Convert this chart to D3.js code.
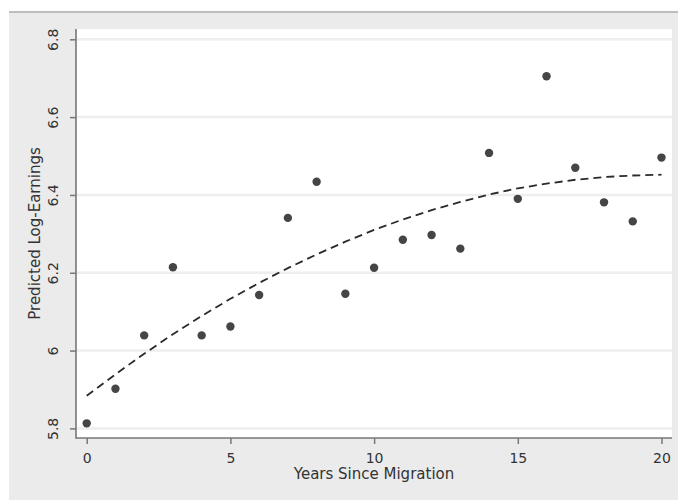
<!DOCTYPE html>
<html>
<head>
<meta charset="utf-8">
<script src="https://cdn.jsdelivr.net/npm/d3@7"></script>
<style>
  html, body { margin: 0; padding: 0; background: #ffffff; }
  svg { display: block; }
  text { font-family: "DejaVu Sans", sans-serif; fill: #333; }
</style>
</head>
<body>
<script>
// ---- data ----
const years = [0,1,2,3,4,5,6,7,8,9,10,11,12,13,14,15,16,17,18,19,20];
const observed = [5.813,5.902,6.039,6.214,6.039,6.062,6.143,6.341,6.434,6.146,6.213,6.285,6.297,6.262,6.508,6.390,6.705,6.470,6.381,6.332,6.496];
const fitted = [5.884,5.939,5.992,6.042,6.089,6.133,6.174,6.212,6.247,6.280,6.310,6.337,6.361,6.382,6.401,6.417,6.429,6.439,6.446,6.450,6.452];
const xTicks = [0,5,10,15,20];
const yTicks = [5.8,6.0,6.2,6.4,6.6,6.8];
const xTitle = "Years Since Migration";
const yTitle = "Predicted Log-Earnings";

const W = 678, H = 500;
const svg = d3.select("body").append("svg").attr("width", W).attr("height", H);

// outer panel
svg.append("rect").attr("x", 9).attr("y", 11).attr("width", W - 9).attr("height", H - 11).attr("fill", "#ebebeb");
svg.append("rect").attr("x", 9).attr("y", 11).attr("width", W - 9).attr("height", 2).attr("fill", "#bdbdbd");

// plot region
const plot = {left: 76, right: 672, top: 29, bottom: 438};
svg.append("rect").attr("x", plot.left).attr("y", plot.top)
  .attr("width", plot.right - plot.left).attr("height", plot.bottom - plot.top).attr("fill", "#ffffff");

const x = d3.scaleLinear().domain([0, 20]).range([86.7, 661.5]);
const y = d3.scaleLinear().domain([5.8, 6.8]).range([428.4, 39.3]);

// gridlines
svg.append("g").selectAll("line").data(yTicks).join("line")
  .attr("x1", plot.left).attr("x2", plot.right)
  .attr("y1", d => y(d)).attr("y2", d => y(d))
  .attr("stroke", "#eeeeee").attr("stroke-width", 2.5);

// fitted dashed line
const line = d3.line().x((d, i) => x(years[i])).y(d => y(d));
svg.append("path").datum(fitted).attr("d", line)
  .attr("fill", "none").attr("stroke", "#2a2a2a").attr("stroke-width", 1.8)
  .attr("stroke-dasharray", "8,5");

// points
svg.append("g").selectAll("circle").data(observed).join("circle")
  .attr("cx", (d, i) => x(years[i])).attr("cy", d => y(d)).attr("r", 4.2)
  .attr("fill", "#454545");

// axes
const fmt = d => (Math.abs(d - 6) < 1e-9 ? "6" : d3.format(".1f")(d));
const yAxis = svg.append("g").attr("transform", `translate(${plot.left},0)`)
  .call(d3.axisLeft(y).tickValues(yTicks).tickSize(6).tickPadding(3).tickFormat(fmt));
yAxis.select(".domain").remove();
yAxis.selectAll(".tick line").attr("stroke", "#777").attr("stroke-width", 1.5);
yAxis.selectAll(".tick text")
  .attr("font-size", 14).attr("fill", "#333")
  .attr("text-anchor", "middle")
  .attr("transform", "translate(-23,0) rotate(-90)")
  .attr("x", 0).attr("dy", "0.35em");

const xAxis = svg.append("g").attr("transform", `translate(0,${plot.bottom})`)
  .call(d3.axisBottom(x).tickValues(xTicks).tickSize(6).tickPadding(9).tickFormat(d3.format("d")));
xAxis.select(".domain").remove();
xAxis.selectAll(".tick line").attr("stroke", "#777").attr("stroke-width", 1.5);
xAxis.selectAll(".tick text").attr("font-size", 14).attr("fill", "#333");

// axis lines
svg.append("line").attr("x1", plot.left).attr("x2", plot.left).attr("y1", plot.top).attr("y2", plot.bottom + 0.75)
  .attr("stroke", "#777").attr("stroke-width", 1.6);
svg.append("line").attr("x1", plot.left).attr("x2", plot.right).attr("y1", plot.bottom).attr("y2", plot.bottom)
  .attr("stroke", "#777").attr("stroke-width", 1.6);

// titles
svg.append("text").attr("x", (plot.left + plot.right) / 2).attr("y", 479)
  .attr("text-anchor", "middle").attr("font-size", 15).text(xTitle);
svg.append("text").attr("transform", `translate(40,${(plot.top + plot.bottom) / 2}) rotate(-90)`)
  .attr("text-anchor", "middle").attr("font-size", 15).text(yTitle);
</script>
</body>
</html>
